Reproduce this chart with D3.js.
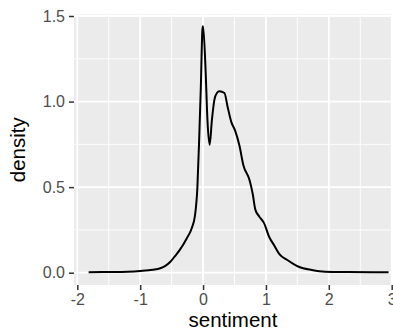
<!DOCTYPE html>
<html>
<head>
<meta charset="utf-8">
<script src="https://cdn.jsdelivr.net/npm/d3@7"></script>
<style>
body { margin: 0; background: #fff; }
svg { display: block; }
</style>
</head>
<body>
<script>
// density estimate
var sentiment = [-1.82, -1.5, -1.2, -1.0, -0.8, -0.68, -0.6, -0.52, -0.45, -0.37, -0.26, -0.18, -0.13, -0.09, -0.06, -0.035, -0.01, 0.0,
  0.04, 0.07, 0.105, 0.14, 0.18, 0.22, 0.26, 0.34, 0.39, 0.45, 0.51, 0.58, 0.64, 0.74, 0.79, 0.83, 0.89, 0.97, 1.05, 1.13, 1.21,
  1.34, 1.52, 1.73, 1.94, 2.3, 2.7, 2.95];
var density = [0.003, 0.004, 0.006, 0.01, 0.017, 0.026, 0.04, 0.064, 0.095, 0.133, 0.20, 0.26, 0.33, 0.50, 0.80, 1.09, 1.42, 1.44,
  1.185, 0.89, 0.747, 0.89, 1.01, 1.05, 1.06, 1.05, 0.97, 0.88, 0.83, 0.74, 0.63, 0.54, 0.46, 0.37, 0.33, 0.29, 0.21, 0.16, 0.11,
  0.074, 0.035, 0.016, 0.006, 0.004, 0.003, 0.003];
var xTicks = [-2, -1, 0, 1, 2, 3];
var xMinor = [-1.5, -0.5, 0.5, 1.5, 2.5];
var yTicks = [0, 0.5, 1.0, 1.5];
var yMinor = [0.25, 0.75, 1.25];

var w = 393, h = 334;
var panel = {left: 74, right: 392, top: 14.5, bottom: 285};

var x = d3.scaleLinear().domain([-2, 3]).range([77.3, 391.7]);
var y = d3.scaleLinear().domain([0, 1.5]).range([272.7, 16]);

var svg = d3.select("body").append("svg")
  .attr("width", w)
  .attr("height", h);

svg.append("rect")
  .attr("x", panel.left)
  .attr("y", panel.top)
  .attr("width", panel.right - panel.left)
  .attr("height", panel.bottom - panel.top)
  .attr("fill", "#EBEBEB");

// grid
svg.selectAll(".xminor").data(xMinor).enter().append("line")
  .attr("x1", function(d) { return x(d); }).attr("x2", function(d) { return x(d); })
  .attr("y1", panel.top).attr("y2", panel.bottom)
  .attr("stroke", "#fff").attr("stroke-width", 0.9);
svg.selectAll(".yminor").data(yMinor).enter().append("line")
  .attr("y1", function(d) { return y(d); }).attr("y2", function(d) { return y(d); })
  .attr("x1", panel.left).attr("x2", panel.right)
  .attr("stroke", "#fff").attr("stroke-width", 0.9);
svg.selectAll(".xmajor").data(xTicks).enter().append("line")
  .attr("x1", function(d) { return x(d); }).attr("x2", function(d) { return x(d); })
  .attr("y1", panel.top).attr("y2", panel.bottom)
  .attr("stroke", "#fff").attr("stroke-width", 1.8);
svg.selectAll(".ymajor").data(yTicks).enter().append("line")
  .attr("y1", function(d) { return y(d); }).attr("y2", function(d) { return y(d); })
  .attr("x1", panel.left).attr("x2", panel.right)
  .attr("stroke", "#fff").attr("stroke-width", 1.8);

// density line
var pts = sentiment.map(function(s, i) { return [s, density[i]]; });
var line = d3.line()
  .x(function(d) { return x(d[0]); })
  .y(function(d) { return y(d[1]); })
  .curve(d3.curveMonotoneX);
svg.append("path")
  .datum(pts)
  .attr("d", line)
  .attr("fill", "none")
  .attr("stroke", "#000")
  .attr("stroke-width", 2)
  .attr("stroke-linejoin", "round");

// axes
var xAxis = d3.axisBottom(x).tickValues(xTicks).tickSize(5).tickPadding(4)
  .tickFormat(function(d) { return String(d); });
var gx = svg.append("g").attr("transform", "translate(0," + panel.bottom + ")").call(xAxis);
gx.select(".domain").remove();

var yAxis = d3.axisLeft(y).tickValues(yTicks).tickSize(5).tickPadding(4)
  .tickFormat(function(d) { return d.toFixed(1); });
var gy = svg.append("g").attr("transform", "translate(" + panel.left + ",0)").call(yAxis);
gy.select(".domain").remove();

svg.selectAll(".tick line").attr("stroke", "#333").attr("stroke-width", 1.5);
svg.selectAll(".tick text")
  .attr("fill", "#4D4D4D")
  .attr("font-family", "Liberation Sans, Arial, sans-serif")
  .attr("font-size", 16);

svg.append("text")
  .attr("x", (panel.left + panel.right) / 2)
  .attr("y", 327)
  .attr("text-anchor", "middle")
  .attr("font-family", "Liberation Sans, Arial, sans-serif")
  .attr("font-size", 20.5)
  .attr("fill", "#000")
  .text("sentiment");

svg.append("text")
  .attr("transform", "translate(25," + ((panel.top + panel.bottom) / 2) + ") rotate(-90)")
  .attr("text-anchor", "middle")
  .attr("font-family", "Liberation Sans, Arial, sans-serif")
  .attr("font-size", 20.5)
  .attr("fill", "#000")
  .text("density");
</script>
</body>
</html>
